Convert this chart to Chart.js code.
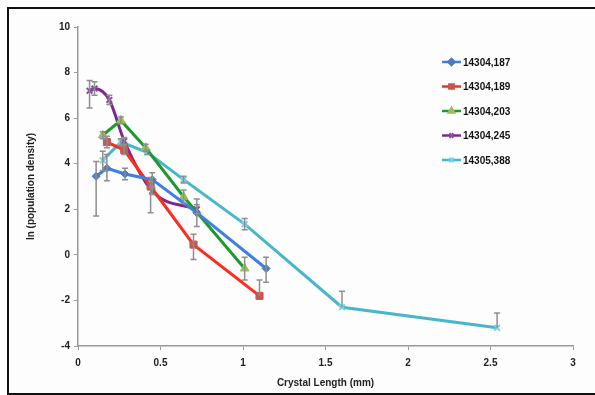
<!DOCTYPE html>
<html>
<head>
<meta charset="utf-8">
<script src="https://cdn.jsdelivr.net/npm/chart.js@4.4.0/dist/chart.umd.min.js"></script>
<style>
  html, body { margin: 0; background: #fff; overflow: hidden; width: 595px; height: 395px; }
  #frame { position: absolute; left: 7px; top: 7px; width: 640px; height: 384px; border-left: 2px solid #111; border-top: 2px solid #111; border-bottom: 2px solid #111; background: #fdfdfd; }
  #wrap { position: absolute; left: 0; top: 0; width: 595px; height: 395px; }
</style>
</head>
<body>
<div id="frame"></div>
<div id="wrap"><canvas id="Chart"></canvas></div>
<script>
// nomi delle serie
const names = ['14304,187', '14304,189', '14304,203', '14304,245', '14305,388'];

// 14304,187
const s187X = [0.11, 0.175, 0.285, 0.45, 0.72, 1.14];
const s187Y = [3.45, 3.8, 3.55, 3.3, 1.85, -0.6];
const s187Up = [0.65, 0.6, 0.25, 0.3, 0.6, 0.5];
const s187Dn = [1.75, 0.55, 0.25, 0.3, 0.6, 0.6];

// 14304,189
const s189X = [0.175, 0.28, 0.44, 0.70, 1.10];
const s189Y = [4.95, 4.6, 3.0, 0.45, -1.8];
const s189Up = [0.25, 0.2, 0.4, 0.45, 0.7];
const s189Dn = [0.25, 0.2, 1.15, 0.65, 0];

// 14304,203
const s203X = [0.15, 0.26, 0.41, 0.64, 1.01];
const s203Y = [5.25, 5.9, 4.7, 2.55, -0.6];
const s203Up = [0.15, 0.15, 0.15, 0.3, 0.5];
const s203Dn = [0.15, 0.15, 0.15, 0.3, 0.5];

// 14304,245
const s245X = [0.07, 0.1, 0.19, 0.28, 0.45, 0.72];
const s245Y = [7.2, 7.3, 6.8, 5.0, 2.8, 2.0];
const s245Up = [0.45, 0.3, 0.2, 0.15, 0.15, 0.2];
const s245Dn = [0.75, 0.3, 0.2, 0.15, 0.15, 0.2];

// 14305,388
const s388X = [0.15, 0.26, 0.42, 0.64, 1.01, 1.6, 2.54];
const s388Y = [4.15, 4.95, 4.5, 3.3, 1.35, -2.3, -3.2];
const s388Up = [0.4, 0.15, 0.1, 0.15, 0.25, 0.7, 0.65];
const s388Dn = [0.45, 0.15, 0.1, 0.15, 0.25, 0, 0];

const allX = [s187X, s189X, s203X, s245X, s388X];
const allY = [s187Y, s189Y, s203Y, s245Y, s388Y];
const allUp = [s187Up, s189Up, s203Up, s245Up, s388Up];
const allDn = [s187Dn, s189Dn, s203Dn, s245Dn, s388Dn];

const lineColors = ['#3d7fe4', '#ff2b1c', '#1c9a2e', '#7b2a8c', '#46b6cb'];
const markColors = ['#4a7cc0', '#c4574f', '#9cbd5a', '#8a4aa0', '#7fd0e0'];
const markStyles = ['rectRot', 'rect', 'triangle', 'crossRot', 'crossRot'];
const markSizes = [4, 5, 5, 4, 4];

const font = { family: '"Liberation Sans", Arial, sans-serif', size: 10, weight: 'bold' };

function pts(i) {
  return allX[i].map((x, k) => ({ x: x, y: allY[i][k] }));
}

const datasets = names.map((n, i) => ({
  label: n,
  data: pts(i),
  borderColor: lineColors[i],
  borderWidth: 3,
  backgroundColor: markColors[i],
  pointBackgroundColor: markColors[i],
  pointBorderColor: markColors[i],
  pointBorderWidth: markStyles[i].startsWith('cross') ? 2 : 1,
  pointStyle: markStyles[i],
  pointRadius: markSizes[i],
  tension: i === 3 ? 0.4 : 0,
  cubicInterpolationMode: i === 3 ? 'monotone' : 'default'
}));

// barre di errore disegnate con le scale del grafico
const errorBars = {
  id: 'errorBars',
  afterDatasetsDraw(chart) {
    const ctx = chart.ctx;
    const xs = chart.scales.x, ys = chart.scales.y;
    ctx.save();
    ctx.strokeStyle = '#8e8e8e';
    ctx.lineWidth = 1.5;
    for (let i = 0; i < allX.length; i++) {
      for (let k = 0; k < allX[i].length; k++) {
        const px = xs.getPixelForValue(allX[i][k]);
        const top = ys.getPixelForValue(allY[i][k] + allUp[i][k]);
        const bot = ys.getPixelForValue(allY[i][k] - allDn[i][k]);
        ctx.beginPath();
        ctx.moveTo(px, top); ctx.lineTo(px, bot);
        if (allUp[i][k] > 0) { ctx.moveTo(px - 3, top); ctx.lineTo(px + 3, top); }
        if (allDn[i][k] > 0) { ctx.moveTo(px - 3, bot); ctx.lineTo(px + 3, bot); }
        ctx.stroke();
      }
    }
    ctx.restore();
  }
};

// legenda dentro l'area del grafico
const legendBox = {
  id: 'legendBox',
  afterDraw(chart) {
    const ctx = chart.ctx;
    ctx.save();
    ctx.font = 'bold 10px "Liberation Sans", Arial, sans-serif';
    ctx.textBaseline = 'middle';
    for (let i = 0; i < names.length; i++) {
      const y = 62 + i * 24.5;
      ctx.strokeStyle = lineColors[i];
      ctx.lineWidth = 2.5;
      ctx.beginPath(); ctx.moveTo(442, y); ctx.lineTo(461, y); ctx.stroke();
      ctx.fillStyle = markColors[i];
      ctx.strokeStyle = markColors[i];
      Chart.helpers.drawPoint(ctx, { pointStyle: markStyles[i], radius: 3, borderWidth: 1.5 }, 451.5, y);
      ctx.fillStyle = '#111';
      ctx.fillText(names[i], 463, y + 1);
    }
    ctx.restore();
  }
};

const config = {
  type: 'line',
  data: { datasets: datasets },
  options: {
    responsive: true,
    maintainAspectRatio: false,
    animation: false,
    layout: { padding: { left: 25, top: 27, right: 22, bottom: 6 } },
    plugins: { legend: { display: false }, tooltip: { enabled: false } },
    scales: {
      x: {
        type: 'linear', min: 0, max: 3,
        ticks: { stepSize: 0.5, color: '#222', font: font, padding: 7, callback: v => String(v) },
        grid: { drawOnChartArea: false, drawTicks: true, tickLength: 4, color: '#999' },
        border: { display: true, color: '#999', width: 1.5 },
        title: { display: true, text: 'Crystal Length (mm)', color: '#222', font: font, padding: { top: 3, bottom: 0 } },
        afterFit(s) { s.height = 43; }
      },
      y: {
        type: 'linear', min: -4, max: 10,
        ticks: { stepSize: 2, color: '#222', font: font, padding: 4 },
        grid: { drawOnChartArea: false, drawTicks: true, tickLength: 4, color: '#999' },
        border: { display: true, color: '#999', width: 1.5 },
        title: { display: true, text: 'ln (population density)', color: '#222', font: font, padding: { top: 0, bottom: 8 } },
        afterFit(s) { s.width = 53; }
      }
    }
  },
  plugins: [errorBars, legendBox]
};

new Chart(document.querySelector('#Chart'), config);
</script>
</body>
</html>
